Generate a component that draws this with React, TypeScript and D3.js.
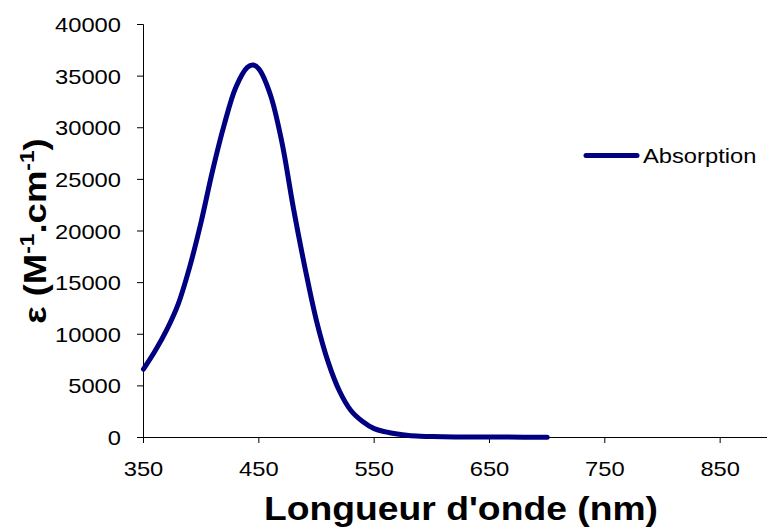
import React from "react";
import * as d3 from "d3";

const wavelengths = [350, 360, 370, 380, 390, 400, 410, 420, 430, 440, 445, 450, 460, 470, 480, 490, 500, 510, 520, 530, 540, 550, 560, 570, 580, 590, 600, 620, 650, 680, 700];
const absorption = [6620, 8370, 10400, 12900, 16500, 20900, 25900, 30300, 33900, 35850, 36080, 35700, 33200, 28600, 22200, 16450, 11300, 7350, 4480, 2590, 1550, 860, 540, 330, 200, 130, 90, 60, 45, 35, 35];
const xTicks = [350, 450, 550, 650, 750, 850];
const yTicks = [0, 5000, 10000, 15000, 20000, 25000, 30000, 35000, 40000];
const seriesName = "Absorption";

const W = 767;
const H = 529;
const SX = 1.13;
const FONT = "Arial, 'Liberation Sans', Helvetica, sans-serif";

function SText({ x, y, anchor, size, weight, children }: any) {
  return (
    <text
      transform={`translate(${x},${y}) scale(${SX},1)`}
      textAnchor={anchor}
      fontSize={size}
      fontWeight={weight || "normal"}
      fontFamily={FONT}
      fill="#000"
    >
      {children}
    </text>
  );
}

export default function App() {
  const x = d3.scaleLinear().domain([350, 900]).range([143.5, 143.5 + 550 * 1.1533]);
  const y = d3.scaleLinear().domain([0, 40000]).range([437.5, 24.5]);
  const data = wavelengths.map((w, i) => ({ w, v: absorption[i] }));
  const line = d3
    .line<{ w: number; v: number }>()
    .x((d) => x(d.w))
    .y((d) => y(d.v))
    .curve(d3.curveCatmullRom.alpha(0.5));

  return (
    <svg
      width={W}
      height={H}
      style={{ position: "absolute", left: 0, top: 0, background: "#fff" }}
    >
      <rect x={0} y={0} width={W} height={H} fill="#fff" />
      {/* axes */}
      <line x1={x(350)} x2={x(350)} y1={y(40000)} y2={y(0)} stroke="#000" strokeWidth={1} />
      <line x1={x(350)} x2={W} y1={y(0)} y2={y(0)} stroke="#000" strokeWidth={1} />
      {yTicks.map((t) => (
        <g key={"y" + t}>
          <line x1={x(350) - 6.5} x2={x(350)} y1={y(t)} y2={y(t)} stroke="#000" />
          <SText x={121} y={y(t) + 7.5} anchor="end" size={21}>
            {t}
          </SText>
        </g>
      ))}
      {xTicks.map((t) => (
        <g key={"x" + t}>
          <line x1={x(t)} x2={x(t)} y1={y(0)} y2={y(0) + 5.5} stroke="#000" />
          <SText x={x(t)} y={475.5} anchor="middle" size={21}>
            {t}
          </SText>
        </g>
      ))}
      {/* series */}
      <path
        d={line(data) || ""}
        fill="none"
        stroke="#000080"
        strokeWidth={5}
        strokeLinecap="round"
        strokeLinejoin="round"
      />
      {/* legend */}
      <line x1={586} x2={637} y1={155.5} y2={155.5} stroke="#000080" strokeWidth={5} strokeLinecap="round" />
      <SText x={643} y={163} anchor="start" size={21}>
        {seriesName}
      </SText>
      {/* axis titles */}
      <SText x={461} y={520} anchor="middle" size={33} weight="bold">
        Longueur d'onde (nm)
      </SText>
      <text
        transform={`translate(46,231) rotate(-90) scale(1.14,1)`}
        textAnchor="middle"
        fontSize={32}
        fontWeight="bold"
        fontFamily={FONT}
        fill="#000"
      >
        ε (M<tspan fontSize={20} dy={-12}>-1</tspan>
        <tspan dy={12}>.cm</tspan>
        <tspan fontSize={20} dy={-12}>-1</tspan>
        <tspan dy={12}>)</tspan>
      </text>
    </svg>
  );
}
